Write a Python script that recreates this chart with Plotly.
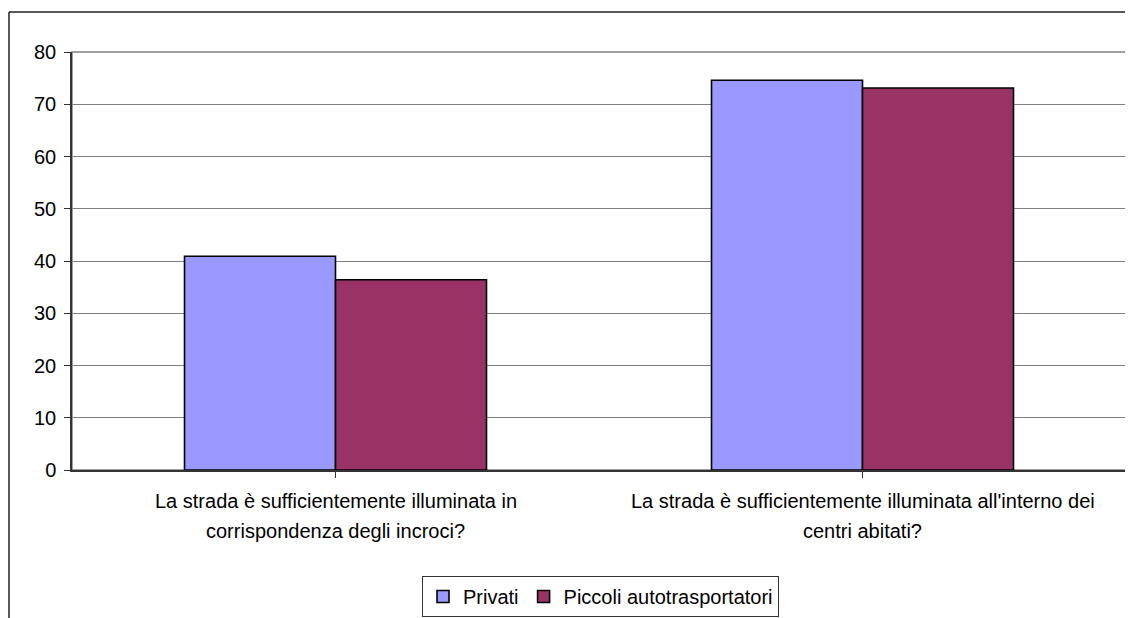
import plotly.graph_objects as go

# ---- data ----
categories = [
    "La strada è sufficientemente illuminata in<br>corrispondenza degli incroci?",
    "La strada è sufficientemente illuminata all'interno dei<br>centri abitati?",
]
series_names = ["Privati", "Piccoli autotrasportatori"]
privati = [40.9, 74.6]
piccoli = [36.4, 73.1]
series_colors = ["#9999FF", "#993366"]
y_ticks = [0, 10, 20, 30, 40, 50, 60, 70, 80]

W, H = 1133, 618
# figure-pixel geometry (page is offset by the 8px body margin)
ML, MR, MT, MB = 64, 15, 44, 156
FONT = "Arial, Liberation Sans, sans-serif"

fig = go.Figure()
for name, vals, col in zip(series_names, [privati, piccoli], series_colors):
    fig.add_trace(go.Bar(
        x=list(range(len(categories))), y=vals, name=name,
        marker=dict(color=col, line=dict(color="black", width=1.6)),
    ))

pw = W - ML - MR
ph = H - MT - MB

def px_x(p):
    return (p - ML) / pw

def px_y(p):
    return (H - MB - p) / ph

# category labels, one annotation per line
for i, cat in enumerate(categories):
    for j, line in enumerate(cat.split("<br>")):
        fig.add_annotation(
            x=i, xref="x", y=px_y(493 + 30 * j), yref="paper",
            text=line, showarrow=False, xanchor="center", yanchor="middle",
            font=dict(family=FONT, size=20, color="black"),
        )

# plot-area border (gray) and outer chart border
fig.add_shape(type="rect", xref="paper", yref="paper", x0=0, x1=1, y0=0, y1=1,
              line=dict(color="#808080", width=1.5), layer="below")
fig.add_shape(type="line", xref="paper", yref="paper",
              x0=px_x(1), x1=px_x(1), y0=px_y(4), y1=px_y(640),
              line=dict(color="#222222", width=1.5))
fig.add_shape(type="line", xref="paper", yref="paper",
              x0=px_x(1), x1=px_x(1160), y0=px_y(4), y1=px_y(4),
              line=dict(color="#222222", width=1.5))

fig.update_layout(
    width=W, height=H,
    margin=dict(l=ML, r=MR, t=MT, b=MB, pad=0),
    paper_bgcolor="white", plot_bgcolor="white",
    barmode="group", bargap=0.427, bargroupgap=0,
    font=dict(family=FONT, size=20, color="black"),
    showlegend=True,
    legend=dict(
        orientation="h", xref="container", yref="container",
        x=414 / W, y=1 - 568 / H, xanchor="left", yanchor="top",
        bordercolor="#333333", borderwidth=1, bgcolor="white",
        font=dict(family=FONT, size=20, color="black"),
        itemwidth=30, tracegroupgap=0,
    ),
    xaxis=dict(
        range=[-0.5, len(categories) - 0.5],
        tickmode="array", tickvals=list(range(len(categories))),
        ticktext=["", ""], showticklabels=False,
        ticks="outside", tickson="boundaries", ticklen=6, tickcolor="#333333",
        showline=True, linecolor="#333333", linewidth=1.5,
        showgrid=False, zeroline=False, fixedrange=True,
    ),
    yaxis=dict(
        range=[0, 80], tickmode="array", tickvals=y_ticks,
        ticks="outside", ticklen=6, tickcolor="#333333",
        showline=True, linecolor="#333333", linewidth=1.5,
        showgrid=True, gridcolor="#808080", gridwidth=1.2,
        zeroline=False, tickfont=dict(family=FONT, size=20, color="black"),
        ticklabelstandoff=4,
    ),
)

fig.write_html("out.html")
